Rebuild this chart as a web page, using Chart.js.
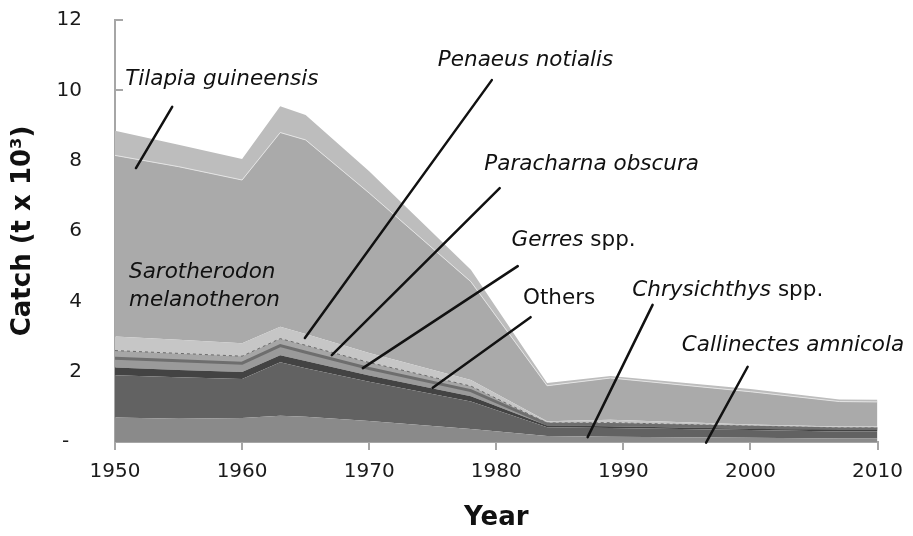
<!DOCTYPE html>
<html>
<head>
<meta charset="utf-8">
<script src="https://cdn.jsdelivr.net/npm/chart.js@4.4.1/dist/chart.umd.min.js"></script>
<style>
  html, body { margin: 0; padding: 0; background: #fff; }
  #wrap { width: 913px; height: 536px; }
</style>
</head>
<body>
<div id="wrap"><canvas id="catchChart"></canvas></div>
<script>
// catch in t x 10^3, stacked from bottom to top
const years = [1950, 1955, 1960, 1963, 1965, 1970, 1978, 1984, 1989, 2000, 2007, 2010];
const callinectes  = [0.70, 0.66, 0.68, 0.75, 0.72, 0.60, 0.37, 0.17, 0.15, 0.12, 0.10, 0.10];
const chrysichthys = [1.20, 1.18, 1.11, 1.52, 1.38, 1.11, 0.78, 0.25, 0.25, 0.22, 0.20, 0.20];
const others       = [0.22, 0.21, 0.20, 0.20, 0.20, 0.18, 0.15, 0.05, 0.05, 0.04, 0.04, 0.04];
const gerres       = [0.26, 0.26, 0.25, 0.27, 0.25, 0.20, 0.16, 0.04, 0.05, 0.04, 0.03, 0.03];
const paracharna   = [0.22, 0.21, 0.20, 0.20, 0.20, 0.17, 0.13, 0.03, 0.05, 0.03, 0.03, 0.03];
const penaeus      = [0.40, 0.39, 0.37, 0.34, 0.32, 0.27, 0.17, 0.05, 0.08, 0.05, 0.04, 0.04];
const sarotherodon = [5.15, 4.92, 4.64, 5.52, 5.52, 4.55, 2.80, 1.01, 1.19, 0.93, 0.71, 0.70];
const tilapia      = [0.70, 0.62, 0.60, 0.75, 0.71, 0.62, 0.34, 0.08, 0.06, 0.08, 0.06, 0.06];

const yTicks = [0, 2, 4, 6, 8, 10, 12];

const FONT = "'DejaVu Sans', Verdana, sans-serif";

function pts(arr) {
  return years.map((yr, i) => ({ x: yr, y: arr[i] }));
}

function layer(label, arr, color, extra) {
  return Object.assign({
    label: label,
    data: pts(arr),
    backgroundColor: color,
    borderColor: color,
    borderWidth: 0,
    fill: '-1',
    pointRadius: 0,
    tension: 0
  }, extra || {});
}

// labels + leader lines, in data units (year, catch)
const notes = [
  { parts: [['Tilapia guineensis', true]], tx: 1950.8, ty: 10.32, align: 'left', line: [1954.5, 9.53, 1951.65, 7.79] },
  { parts: [['Sarotherodon', true]], tx: 1951.1, ty: 4.83, align: 'left' },
  { parts: [['melanotheron', true]], tx: 1951.1, ty: 4.04, align: 'left' },
  { parts: [['Penaeus notialis', true]], tx: 1982.3, ty: 10.86, align: 'center', line: [1979.65, 10.29, 1964.94, 2.96] },
  { parts: [['Paracharna obscura', true]], tx: 1987.5, ty: 7.88, align: 'center', line: [1980.27, 7.22, 1967.06, 2.47] },
  { parts: [['Gerres', true], [' spp.', false]], tx: 1981.2, ty: 5.74, align: 'left', line: [1981.69, 5.0, 1969.5, 2.1] },
  { parts: [['Others', false]], tx: 1982.1, ty: 4.09, align: 'left', line: [1982.7, 3.55, 1975.0, 1.54] },
  { parts: [['Chrysichthys', true], [' spp.', false]], tx: 1990.7, ty: 4.32, align: 'left', line: [1992.3, 3.9, 1987.19, 0.14] },
  { parts: [['Callinectes amnicola', true]], tx: 1994.6, ty: 2.76, align: 'left', line: [1999.78, 2.14, 1996.51, -0.02] }
];

const notePlugin = {
  id: 'notes',
  afterDatasetsDraw(chart) {
    const { ctx, scales: { x, y } } = chart;
    ctx.save();
    ctx.strokeStyle = '#111';
    ctx.lineWidth = 2.5;
    ctx.lineCap = 'round';
    notes.forEach(n => {
      if (!n.line) return;
      ctx.beginPath();
      ctx.moveTo(x.getPixelForValue(n.line[0]), y.getPixelForValue(n.line[1]));
      ctx.lineTo(x.getPixelForValue(n.line[2]), y.getPixelForValue(n.line[3]));
      ctx.stroke();
    });
    ctx.fillStyle = '#111';
    ctx.textBaseline = 'middle';
    ctx.textAlign = 'left';
    notes.forEach(n => {
      const fonts = n.parts.map(p => (p[1] ? 'italic ' : '') + '21.5px ' + FONT);
      let total = 0;
      n.parts.forEach((p, i) => { ctx.font = fonts[i]; total += ctx.measureText(p[0]).width; });
      let px = x.getPixelForValue(n.tx);
      if (n.align === 'center') px -= total / 2;
      const py = y.getPixelForValue(n.ty);
      n.parts.forEach((p, i) => {
        ctx.font = fonts[i];
        ctx.fillText(p[0], px, py);
        px += ctx.measureText(p[0]).width;
      });
    });
    ctx.restore();
  }
};

new Chart(document.getElementById('catchChart'), {
  type: 'line',
  data: {
    datasets: [
      layer('Callinectes amnicola', callinectes, '#8a8a8a', { fill: 'origin' }),
      layer('Chrysichthys spp.', chrysichthys, '#626262'),
      layer('Others', others, '#434343'),
      layer('Gerres spp.', gerres, '#9a9a9a', { borderColor: '#6e6e6e', borderWidth: 3 }),
      layer('Paracharna obscura', paracharna, '#a6a6a6', { borderColor: '#6a6a6a', borderWidth: 1, borderDash: [3, 3] }),
      layer('Penaeus notialis', penaeus, '#c6c6c6'),
      layer('Sarotherodon melanotheron', sarotherodon, '#aaaaaa', { borderColor: '#e4e4e4', borderWidth: 1 }),
      layer('Tilapia guineensis', tilapia, '#bdbdbd')
    ]
  },
  options: {
    responsive: true,
    maintainAspectRatio: false,
    animation: false,
    layout: { padding: { top: 20, right: 35, left: 0, bottom: 0 } },
    plugins: { legend: { display: false }, tooltip: { enabled: false } },
    scales: {
      x: {
        type: 'linear',
        min: 1950,
        max: 2010,
        afterFit: s => { s.height = 94; },
        ticks: { stepSize: 10, color: '#1a1a1a', font: { family: FONT, size: 20 }, padding: 10, maxRotation: 0,
                 callback: v => String(v) },
        grid: { drawOnChartArea: false, tickLength: 8, color: '#a6a6a6', lineWidth: 2 },
        border: { color: '#a6a6a6', width: 2 },
        title: { display: true, text: 'Year', color: '#111', font: { family: FONT, size: 26, weight: 'bold' },
                 padding: { top: 0, bottom: 2 } }
      },
      y: {
        stacked: true,
        min: 0,
        max: 12,
        afterFit: s => { s.width = 115; s.paddingTop = 0; s.paddingBottom = 0; },
        afterBuildTicks: s => { s.ticks = yTicks.map(v => ({ value: v })); },
        ticks: { color: '#1a1a1a', font: { family: FONT, size: 20 }, padding: 41,
                 callback: v => (v === 0 ? '-  ' : String(v)) },
        grid: { drawOnChartArea: false, tickLength: -8, color: '#a6a6a6', lineWidth: 2 },
        border: { color: '#a6a6a6', width: 2 },
        title: { display: true, text: 'Catch (t x 10³)', color: '#111', font: { family: FONT, size: 26, weight: 'bold' },
                 padding: { top: 8, bottom: 0 } }
      }
    }
  },
  plugins: [notePlugin]
});
</script>
</body>
</html>
